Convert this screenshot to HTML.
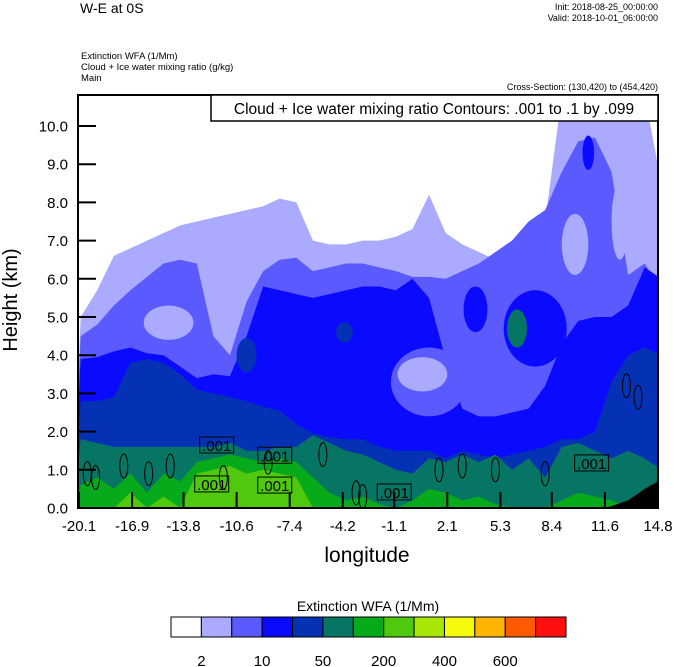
<!DOCTYPE html>
<html><head><meta charset="utf-8"><style>
html,body{margin:0;padding:0;background:#fff;}
svg{display:block;font-family:"Liberation Sans",sans-serif;}
</style></head><body>
<svg id="chart" width="674" height="667" viewBox="0 0 674 667" xmlns="http://www.w3.org/2000/svg">
<defs><clipPath id="pc"><rect x="78" y="95" width="580" height="413"/></clipPath></defs>
<text x="80" y="13" font-size="14">W-E at 0S</text>
<text x="658" y="10" font-size="9" text-anchor="end">Init: 2018-08-25_00:00:00</text>
<text x="658" y="21" font-size="9" text-anchor="end">Valid: 2018-10-01_06:00:00</text>
<text x="81" y="59" font-size="9.5">Extinction WFA   (1/Mm)</text>
<text x="81" y="70" font-size="9.5">Cloud + Ice water mixing ratio   (g/kg)</text>
<text x="81" y="81" font-size="9.5">Main</text>
<text x="658" y="90" font-size="9" text-anchor="end">Cross-Section: (130,420) to (454,420)</text>
<g id="plot" clip-path="url(#pc)"></g>
<g id="overlay"></g>
<rect x="78" y="95" width="580" height="413" fill="none" stroke="#000" stroke-width="2"/>
<rect x="211" y="95" width="447" height="26" fill="#fff" stroke="#000" stroke-width="1.5"/>
<text x="434" y="114" font-size="15.5" text-anchor="middle">Cloud + Ice water mixing ratio Contours: .001 to .1 by .099</text>
<g id="axes"></g>
<text transform="translate(17,300) rotate(-90)" font-size="20" text-anchor="middle">Height (km)</text>
<text x="367" y="562" font-size="21" text-anchor="middle">longitude</text>
<text x="368" y="611" font-size="14" text-anchor="middle">Extinction WFA  (1/Mm)</text>
<g id="cbar"></g>
</svg>
<script>
const lons = [-20,-19,-18,-17,-16,-15,-14,-13,-12,-11,-10,-9,-8,-7,-6,-5,-4,-3,-2,-1,0,1,2,3,4,5,6,7,8,9,10,11,12,13,14,15];
const lvl1Top = [5.0,5.7,6.6,6.8,7.0,7.2,7.4,7.5,7.6,7.7,7.8,7.9,8.1,8.0,7.0,6.9,6.9,7.0,7.0,7.1,7.3,8.2,7.2,6.9,6.7,6.5,6.6,7.0,7.5,10.8,10.8,10.8,10.8,10.8,10.8,8.5];
const lvl2Top = [4.5,4.8,5.3,5.7,6.05,6.4,6.5,6.4,4.5,4.0,5.4,6.2,6.5,6.55,6.2,6.3,6.4,6.4,6.3,6.2,6.05,6.05,6.0,6.2,6.4,6.7,7.0,7.5,7.8,8.8,9.6,9.7,8.8,6.1,6.4,5.7];
const lvl3Top = [3.9,3.95,4.1,4.2,4.05,4.0,3.7,3.4,3.5,3.45,4.5,5.8,5.7,5.6,5.5,5.6,5.7,5.8,5.8,5.7,6.0,5.5,3.9,2.6,2.4,2.4,2.5,2.6,3.2,4.3,4.9,5.0,5.0,5.3,6.3,6.0];
const lvl4Top = [2.8,2.8,2.9,3.8,3.9,3.8,3.5,3.1,3.0,2.9,2.8,2.65,2.55,2.2,1.95,1.86,1.8,1.8,1.6,1.5,1.5,1.5,1.3,1.5,1.4,1.3,1.4,1.5,1.6,1.8,1.8,2.0,3.3,4.0,4.2,4.0];
const lvl5Top = [1.8,1.7,1.6,1.6,1.6,1.6,1.6,1.6,1.6,1.7,1.5,1.5,1.6,1.6,1.9,1.7,1.5,1.4,1.2,1.0,0.9,1.3,1.2,1.4,1.2,1.4,1.0,1.3,0.8,1.6,1.7,1.5,1.3,1.5,1.3,1.0];
const lvl6Top = [0.6,0.8,0.5,0.9,0.4,0.9,0.7,1.2,1.3,1.4,1.3,1.2,1.3,1.2,0.8,0.4,0.2,0.3,0.1,0,0.2,0.5,0.4,0.2,0.3,0.1,0,0,0,0.2,0.4,0.3,0.2,0,0,0];
const lvl7Top = [0,0,0,0.4,0,0.3,0,0.9,1.0,1.1,0.9,1.0,0.9,0.8,0,0,0,0,0,0,0,0,0,0,0,0,0,0,0,0,0,0,0,0,0,0];
const blobLon = [1.0,-14.7,0.6,9.8,12.5,10.6,3.8,7.4,-10.0,-4.1,6.3];
const blobH   = [3.3,4.85,3.5,6.9,7.5,9.3,5.2,4.7,4.0,4.6,4.7];
const blobRLon= [2.3,1.5,1.5,0.8,0.5,0.35,0.72,1.9,0.6,0.5,0.6];
const blobRH  = [0.9,0.45,0.45,0.8,1.0,0.45,0.6,1.0,0.45,0.27,0.5];
const blobLvl = [2,1,1,1,1,3,3,3,4,4,5];
const terrainLon = [11.5,12,13,14,14.8];
const terrainH = [0,0.05,0.2,0.5,0.7];
const contourLon = [-19.6,-19.1,-17.4,-15.9,-14.6,-11.4,-8.7,-5.4,-3.4,-3.0,1.6,3.0,5.0,8.0,12.9,13.6];
const contourH = [0.9,0.8,1.1,0.9,1.1,0.8,1.2,1.4,0.4,0.3,1.0,1.1,1.0,0.9,3.2,2.9];
const labelLon = [-11.8,-8.3,-12.1,-8.3,-1.1,10.8];
const labelH = [1.65,1.38,0.63,0.6,0.42,1.18];
const labelText = [".001",".001",".001",".001",".001",".001"];
const xTicks = [-20.1,-16.9,-13.8,-10.6,-7.4,-4.2,-1.1,2.1,5.3,8.4,11.6,14.8];
const yTicks = [0,1,2,3,4,5,6,7,8,9,10];
const cbColors = ["#ffffff","#aaaaff","#5a5aff","#0a0aff","#0532b4","#077564","#06aa1a","#50c80e","#a8e606","#f5fa0a","#ffb400","#ff5a00","#ff0f0f"];
const cbLabels = ["2","10","50","200","400","600"];
const levelColors = cbColors;

const NS="http://www.w3.org/2000/svg";
function xS(lon){return 79+(lon+20.1)*(579/34.9);}
function yS(h){return 508-h*38.2;}
function mk(tag,attrs,parent){const e=document.createElementNS(NS,tag);for(const k in attrs)e.setAttribute(k,attrs[k]);parent.appendChild(e);return e;}
const plot=document.getElementById('plot');
mk('rect',{x:78,y:95,width:580,height:413,fill:'#fff'},plot);
const tops=[lvl1Top,lvl2Top,lvl3Top,lvl4Top,lvl5Top,lvl6Top,lvl7Top];
const names=['lavender','medium-blue','blue','dark-blue','teal','green','light-green'];
tops.forEach((arr,i)=>{
  let d='M'+xS(lons[0]-0.5)+','+yS(-0.5);
  arr.forEach((h,j)=>{d+=' L'+xS(lons[j])+','+yS(h);});
  d+=' L'+xS(lons[lons.length-1]+0.5)+','+yS(-0.5)+' Z';
  const p=mk('path',{d:d,fill:levelColors[i+1]},plot);
  
  
});
blobLon.forEach((l,i)=>{
  const e=mk('ellipse',{cx:xS(l),cy:yS(blobH[i]),rx:blobRLon[i]*579/34.9,ry:blobRH[i]*38.2,fill:levelColors[blobLvl[i]]},plot);
  
  
});
let td='M'+xS(terrainLon[0])+','+yS(0);
terrainLon.forEach((l,i)=>{td+=' L'+xS(l)+','+yS(terrainH[i]);});
td+=' L'+xS(15.5)+','+yS(terrainH[terrainH.length-1])+' L'+xS(15.5)+','+yS(-0.2)+' L'+xS(terrainLon[0])+','+yS(-0.2)+' Z';
const ter=mk('path',{d:td,fill:'#000'},plot);


const ov=document.getElementById('overlay');
contourLon.forEach((l,i)=>{
  const e=mk('ellipse',{cx:xS(l),cy:yS(contourH[i]),rx:4,ry:12,fill:'none',stroke:'#000','stroke-width':1},ov);
  
  
});
labelLon.forEach((l,i)=>{
  const cx=xS(l),cy=yS(labelH[i]);
  const r=mk('rect',{x:cx-17,y:cy-8,width:34,height:16,fill:'none',stroke:'#000','stroke-width':1},ov);
  
  
  const t=mk('text',{x:cx,y:cy+6,'font-size':15,'text-anchor':'middle'},ov);
  t.textContent=labelText[i];
  
  
});
const ax=document.getElementById('axes');
xTicks.forEach(v=>{
  const x=xS(v);
  const l=mk('line',{x1:x,x2:x,y1:508,y2:492,stroke:'#000','stroke-width':2},ax);
  
  
  const t=mk('text',{x:x,y:531,'font-size':15,'text-anchor':'middle'},ax);
  t.textContent=v.toFixed(1);
  
  
});
yTicks.forEach(v=>{
  const y=yS(v);
  const l=mk('line',{x1:78,x2:96,y1:y,y2:y,stroke:'#000','stroke-width':2},ax);
  
  
  const t=mk('text',{x:68,y:y+5.5,'font-size':15,'text-anchor':'end'},ax);
  t.textContent=v.toFixed(1);
  
  
});
const cb=document.getElementById('cbar');
const bw=(566-171)/cbColors.length;
cbColors.forEach((c,i)=>{
  const r=mk('rect',{x:171+i*bw,y:617,width:bw,height:20,fill:c,stroke:'#000','stroke-width':1},cb);
  
  
});
cbLabels.forEach((s,i)=>{
  const t=mk('text',{x:171+(1+2*i)*bw,y:666,'font-size':15,'text-anchor':'middle'},cb);
  t.textContent=s;
  
  
});
</script>
</body></html>
